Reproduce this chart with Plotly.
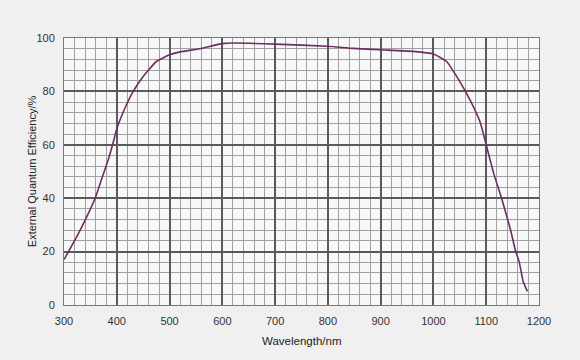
import plotly.graph_objects as go

wavelength = [300, 324, 343, 359, 371, 384, 392, 400, 415, 431, 450, 475, 500, 520, 557,
              600, 621, 700, 800, 848, 898, 962, 1000, 1025, 1044, 1069, 1089, 1100,
              1114, 1130, 1146, 1155, 1163, 1170, 1178]
qe = [17, 25.5, 33, 40, 47, 54.5, 60, 66, 73.5, 80, 85.6, 91.2, 93.7, 94.8, 96,
      97.9, 98.1, 97.7, 96.9, 96.1, 95.6, 95, 94, 91.2, 85.6, 76.9, 68.2, 60,
      49.4, 39.4, 28.2, 20.7, 15.7, 8.8, 5.1]

x_ticks = [300, 400, 500, 600, 700, 800, 900, 1000, 1100, 1200]
y_ticks = [0, 20, 40, 60, 80, 100]

font = dict(family="Liberation Sans, Arial, sans-serif", size=11, color="#333333")

fig = go.Figure()
fig.add_trace(go.Scatter(
    x=wavelength, y=qe, mode="lines",
    line=dict(color="#6b2f62", width=1.6, shape="spline", smoothing=0.4),
    hoverinfo="skip", showlegend=False,
))

fig.update_layout(
    width=580, height=360,
    margin=dict(l=64, r=41, t=38, b=55),
    paper_bgcolor="#f0f0f0",
    plot_bgcolor="#f8f8f8",
    font=font,
    xaxis=dict(
        range=[300, 1200], tickvals=x_ticks, ticktext=[str(v) for v in x_ticks],
        showgrid=True, gridcolor="#5a5a5a", gridwidth=1.5,
        minor=dict(dtick=20, tick0=300, showgrid=True, gridcolor="#a0a0a0", gridwidth=1),
        showline=True, mirror=True, linecolor="#777777", linewidth=1,
        zeroline=False, ticks="", ticklabelstandoff=6,
        tickfont=font,
    ),
    yaxis=dict(
        range=[0, 100], tickvals=y_ticks, ticktext=[str(v) for v in y_ticks],
        showgrid=True, gridcolor="#5a5a5a", gridwidth=1.5,
        minor=dict(dtick=4, tick0=0, showgrid=True, gridcolor="#a0a0a0", gridwidth=1),
        showline=True, mirror=True, linecolor="#777777", linewidth=1,
        zeroline=False, ticks="", ticklabelstandoff=6,
        tickfont=font,
    ),
    annotations=[
        dict(text="Wavelength/nm", xref="paper", yref="paper", x=0.5, y=-0.135,
             xanchor="center", yanchor="middle", showarrow=False,
             font=dict(family=font["family"], size=11.5, color="#222222")),
        dict(text="External Quantum Efficiency/%", xref="paper", yref="paper",
             x=-0.068, y=0.5, xanchor="center", yanchor="middle", showarrow=False,
             textangle=-90,
             font=dict(family=font["family"], size=11, color="#222222")),
    ],
)

fig.write_html(
    "out.html",
    config={"displayModeBar": False},
    post_script="document.body.style.margin='0';document.body.style.background='#f0f0f0';",
)
